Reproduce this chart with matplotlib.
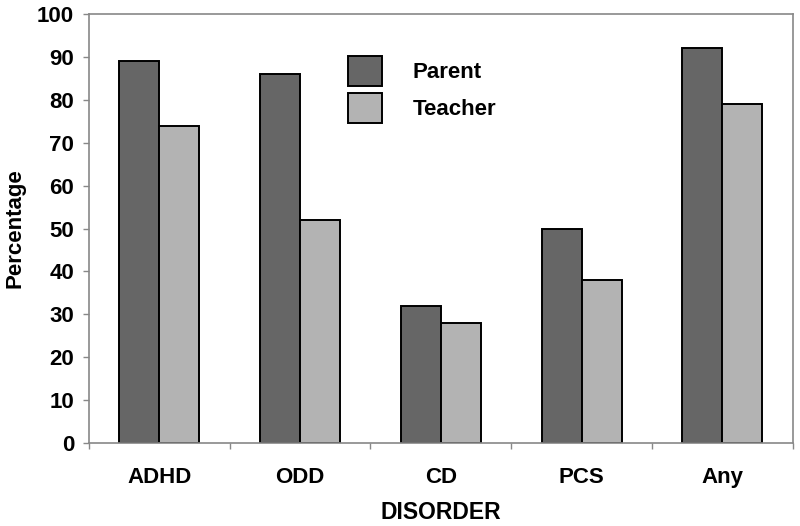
import matplotlib.pyplot as plt
import numpy as np

disorders = ["ADHD", "ODD", "CD", "PCS", "Any"]
parent = [89, 86, 32, 50, 92]
teacher = [74, 52, 28, 38, 79]

plt.rcParams['font.family'] = ['Liberation Sans', 'DejaVu Sans']
plt.rcParams['font.weight'] = 'bold'

fig = plt.figure(figsize=(8, 5.26), dpi=100)
ax = fig.add_axes([0.111, 0.158, 0.880, 0.815])

x = np.arange(len(disorders))
w = 0.284
ax.bar(x - w / 2, parent, w, color='#666666', edgecolor='black', linewidth=1.4, label='Parent')
ax.bar(x + w / 2, teacher, w, color='#b3b3b3', edgecolor='black', linewidth=1.4, label='Teacher')

ax.set_xlim(-0.5, len(disorders) - 0.5)
ax.set_ylim(0, 100)
ax.set_yticks(range(0, 101, 10))
ax.set_xticks(x)
ax.set_xticklabels(disorders)
ax.set_xticks(np.arange(-0.5, len(disorders), 1), minor=True)
ax.tick_params(axis='x', which='major', length=0, pad=17.5, labelsize=16)
ax.tick_params(axis='x', which='minor', length=4.5, color='#888888', width=1)
ax.tick_params(axis='y', length=4.5, color='#888888', width=1, labelsize=16, pad=6)

for s in ax.spines.values():
    s.set_color('#888888')
    s.set_linewidth(1.2)

ax.set_ylabel('Percentage', fontsize=16, fontweight='bold', labelpad=8)
ax.set_xlabel('DISORDER', fontsize=16.5, fontweight='bold', labelpad=9)

ax.legend(loc='upper left', bbox_to_anchor=(0.435, 0.894), bbox_transform=fig.transFigure,
          frameon=False, fontsize=16, handlelength=1.55, handleheight=1.7,
          handletextpad=1.36, labelspacing=0.32, borderpad=0, borderaxespad=0)

fig.savefig('out.png', dpi=100)
